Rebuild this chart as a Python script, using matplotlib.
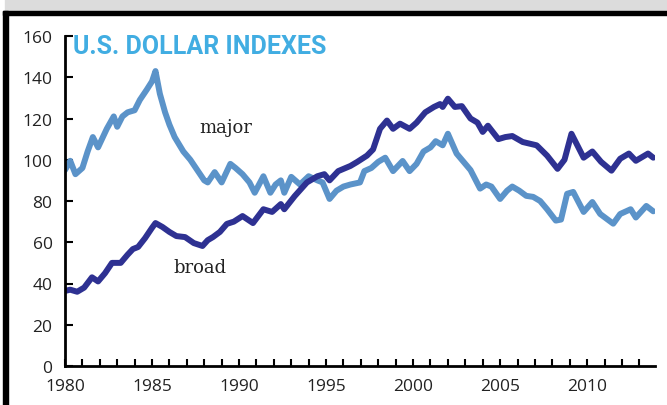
import matplotlib
matplotlib.use("Agg")
import matplotlib.pyplot as plt
from matplotlib.patches import Rectangle
from matplotlib.ticker import MultipleLocator

# major currencies index (decimal year, index value)
major_years = [1980.0, 1980.3, 1980.6, 1981.0, 1981.3, 1981.6, 1981.9, 1982.4, 1982.8, 1983.0,
               1983.3, 1983.6, 1984.0, 1984.3, 1984.7, 1985.0, 1985.2, 1985.45, 1985.75, 1986.0,
               1986.3, 1986.8, 1987.2, 1987.6, 1988.0, 1988.2, 1988.6, 1989.0, 1989.5, 1989.8,
               1990.2, 1990.6, 1990.9, 1991.4, 1991.8, 1992.1, 1992.4, 1992.6, 1993.0, 1993.5,
               1994.0, 1994.5, 1994.8, 1995.2, 1995.6, 1996.0, 1996.4, 1996.95, 1997.2, 1997.6,
               1998.0, 1998.4, 1998.85, 1999.4, 1999.8, 2000.2, 2000.6, 2001.0, 2001.3, 2001.7,
               2002.0, 2002.5, 2002.9, 2003.3, 2003.85, 2004.2, 2004.5, 2005.0, 2005.4, 2005.7,
               2006.1, 2006.5, 2006.9, 2007.3, 2007.7, 2008.2, 2008.5, 2008.85, 2009.2, 2009.8,
               2010.3, 2010.75, 2011.5, 2011.9, 2012.5, 2012.8, 2013.4, 2013.8]
major_vals = [95, 99.5, 93, 96, 104, 111, 106, 115, 121, 116,
              121, 123, 124, 129, 134, 138, 143, 132, 123, 117,
              111, 104, 100, 95, 90, 89, 94, 89, 98, 96,
              93, 89, 84, 92, 84, 88, 90, 84, 91.7, 88,
              92, 90, 89, 81, 85, 87, 88, 89, 94.5, 96,
              99, 101, 94.5, 99.4, 94.5, 98, 104, 106, 109, 107,
              112.6, 103, 99, 95, 86, 88, 87, 81, 85, 87,
              85, 82.5, 82, 80, 76, 70.5, 71, 83.5, 84.4, 74.7,
              79.5, 73.7, 69, 73.7, 76, 72, 77.6, 75]

# broad index
broad_years = [1980.0, 1980.3, 1980.7, 1981.1, 1981.55, 1981.9, 1982.3, 1982.7, 1983.2, 1983.6,
               1983.9, 1984.2, 1984.6, 1985.0, 1985.2, 1985.6, 1986.0, 1986.4, 1986.9, 1987.4,
               1987.9, 1988.2, 1988.5, 1988.9, 1989.3, 1989.7, 1990.2, 1990.8, 1991.4, 1991.9,
               1992.4, 1992.6, 1993.2, 1993.9, 1994.5, 1994.9, 1995.2, 1995.7, 1996.4, 1996.8,
               1997.35, 1997.7, 1998.1, 1998.5, 1998.85, 1999.25, 1999.8, 2000.2, 2000.7, 2001.2,
               2001.55, 2001.7, 2002.0, 2002.4, 2002.8, 2003.3, 2003.7, 2004.0, 2004.3, 2004.9,
               2005.3, 2005.7, 2006.3, 2007.1, 2007.7, 2008.3, 2008.7, 2009.1, 2009.8, 2010.3,
               2010.8, 2011.4, 2011.9, 2012.4, 2012.8, 2013.5, 2013.8]
broad_vals = [36.4, 37, 36, 38, 43, 41, 45, 50, 50, 54,
              56.7, 57.7, 62, 67, 69.3, 67.4, 65, 63, 62.5, 59.6,
              58.2, 61, 62.5, 65, 68.9, 70, 72.7, 69.3, 76, 74.7,
              78.5, 76, 82.4, 89, 92, 93, 90, 94.5, 97, 99,
              102, 105, 115, 119, 115, 117.5, 115, 118, 123, 125.6,
              127, 125.6, 129.6, 125.6, 126, 120, 118, 113.5, 116.5, 110,
              111, 111.5, 108.6, 107, 102, 95.6, 100, 112.6, 101, 104,
              99, 94.7, 100.5, 103, 99.5, 103, 101]

year_ticks = [1980, 1985, 1990, 1995, 2000, 2005, 2010]

fig = plt.figure(figsize=(6.67, 4.06), dpi=100)
fig.patch.set_facecolor("white")

# grey band and black frame of the panel
fig.patches.append(Rectangle((5 / 667, 394 / 406), 662 / 667, 12 / 406,
                             transform=fig.transFigure, color="#dcdcdc", zorder=0))
fig.patches.append(Rectangle((3 / 667, 390 / 406), 664 / 667, 4.5 / 406,
                             transform=fig.transFigure, color="black", zorder=1))
fig.patches.append(Rectangle((3 / 667, 0), 5 / 667, 394 / 406,
                             transform=fig.transFigure, color="black", zorder=1))

ax = fig.add_axes([65 / 667, 39 / 406, 590 / 667, 330 / 406])
ax.plot(major_years, major_vals, color="#5b93c9", lw=4.3, solid_capstyle="round",
        solid_joinstyle="round")
ax.plot(broad_years, broad_vals, color="#2e3192", lw=4.3, solid_capstyle="round",
        solid_joinstyle="round")

ax.set_xlim(1980, 2013.9)
ax.set_ylim(0, 160)
ax.set_xticks(year_ticks)
ax.xaxis.set_minor_locator(MultipleLocator(1))
ax.yaxis.set_major_locator(MultipleLocator(20))
ax.tick_params(axis="x", which="both", direction="in", length=5, width=1.5, pad=9)
ax.tick_params(axis="y", direction="in", length=6, width=1.5, pad=9)
for side in ["top", "right"]:
    ax.spines[side].set_visible(False)
for side in ["left", "bottom"]:
    ax.spines[side].set_linewidth(2)

for lab in ax.get_xticklabels() + ax.get_yticklabels():
    lab.set_family("Open Sans")
    lab.set_fontsize(12.5)
    lab.set_color("#222222")

ax.text(1980.45, 161, "U.S. DOLLAR INDEXES", color="#41ade2", fontsize=18,
        fontweight="bold", family="Roboto", ha="left", va="top")
ax.text(1989.25, 116, "major", fontsize=13, family="DejaVu Serif", color="#222222",
        ha="center", va="center")
ax.text(1987.75, 48, "broad", fontsize=13, family="DejaVu Serif", color="#222222",
        ha="center", va="center")

fig.savefig("out.png", dpi=100)
